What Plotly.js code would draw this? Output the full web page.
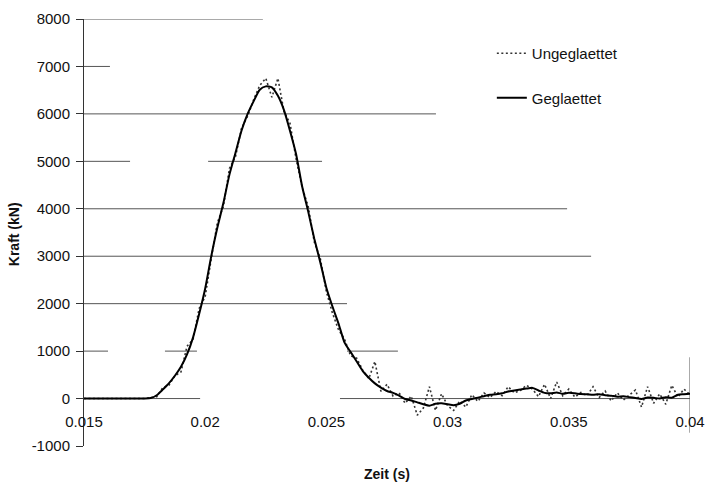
<!DOCTYPE html>
<html>
<head>
<meta charset="utf-8">
<script src="https://cdn.plot.ly/plotly-3.0.1.min.js"></script>
<style>html,body{margin:0;padding:0;background:#fff;}#chart{width:707px;height:482px;}</style>
</head>
<body>
<div id="chart"></div>
<script>
// Time (s), sampled every 0.25 ms from 15 ms to 40 ms
var timeMs = [];
for (var i = 0; i <= 100; i++) timeMs.push(15 + i * 0.25);
var zeit = timeMs.map(function (t) { return +(t / 1000).toFixed(5); });

// Ungeglaettet (raw) force values, kN
var ungeglaettet = [
  0, 0, 0, 0, 0, 0, 0, 0, 0, 0, 0,            // 15.00 - 17.50
  20, 40, 230, 280, 480, 560, 1100, 1250, 1900, 2150, // 17.75 - 20.00
  2950, 3700, 4050, 4850, 5100, 5700, 5950, 6300, 6600, 6750, // 20.25 - 22.50
  6350, 6750, 6050, 5800, 5050, 4450, 4050, 3300, 2950, 2250, // 22.75 - 25.00
  1800, 1450, 1250, 900, 850, 600, 420, 780, 150, 300,      // 25.25 - 27.50
  50, 120, -100, 50, -350, -200, 250, -250, 100, -150,      // 27.75 - 30.00
  -250, -50, -180, 80, -60, 120, 20, 150, 60, 250,          // 30.25 - 32.50
  120, 170, 280, 200, 40, 300, 0, 350, 60, 200,             // 32.75 - 35.00
  30, 130, 60, 250, 20, 160, -50, 120, -30, 80,             // 35.25 - 37.50
  180, -180, 250, -100, 100, -120, 280, 30, 200, 80         // 37.75 - 40.00
];

// Geglaettet (smoothed) force values, kN
var geglaettet = [
  0, 0, 0, 0, 0, 0, 0, 0, 0, 0, 0,            // 15.00 - 17.50
  10, 70, 190, 320, 480, 670, 930, 1290, 1780, 2320, // 17.75 - 20.00
  3000, 3600, 4120, 4720, 5180, 5650, 6000, 6270, 6510, 6580, // 20.25 - 22.50
  6560, 6380, 6080, 5640, 5150, 4470, 3940, 3370, 2870, 2330, // 22.75 - 25.00
  1940, 1580, 1180, 980, 780, 580, 440, 320, 230, 160,      // 25.25 - 27.50
  120, 60, -10, -40, -80, -120, -150, -110, -100, -120,     // 27.75 - 30.00
  -140, -110, -40, -10, 20, 50, 80, 90, 110, 150,           // 30.25 - 32.50
  170, 190, 210, 225, 170, 120, 110, 130, 100, 120,         // 32.75 - 35.00
  110, 95, 90, 80, 90, 70, 60, 40, 50, 30,                  // 35.25 - 37.50
  10, -10, 20, 15, 0, 30, 20, 80, 90, 100                   // 37.75 - 40.00
];

var xTickVals = [0.015, 0.02, 0.025, 0.03, 0.035, 0.04];
var xTickText = ["0.015", "0.02", "0.025", "0.03", "0.035", "0.04"];
var yTickVals = [-1000, 0, 1000, 2000, 3000, 4000, 5000, 6000, 7000, 8000];
var yTickText = ["-1000", "0", "1000", "2000", "3000", "4000", "5000", "6000", "7000", "8000"];

// Horizontal grid segments as they appear (partially printed) in the scan
var gridY  = [8000, 7000, 6000, 5000, 5000, 4000, 3000, 2000, 1000, 1000, 1000, 0, 0];
var gridX0 = [0.015, 0.015, 0.015, 0.015, 0.02012, 0.015, 0.015, 0.015, 0.015, 0.01834, 0.02585, 0.015, 0.02556];
var gridX1 = [0.02238, 0.01607, 0.02952, 0.0169, 0.02482, 0.03493, 0.03592, 0.02585, 0.01599, 0.01966, 0.02795, 0.01979, 0.04];
// vertical line at the right end
var vLineX = 0.04, vLineY0 = -720, vLineY1 = 870;

var shapes = [];
for (var k = 0; k < gridY.length; k++) {
  shapes.push({type: 'line', xref: 'x', yref: 'y', x0: gridX0[k], x1: gridX1[k], y0: gridY[k], y1: gridY[k],
    line: {color: '#555', width: 1}, layer: 'below'});
}
shapes.push({type: 'line', xref: 'x', yref: 'y', x0: vLineX, x1: vLineX, y0: vLineY0, y1: vLineY1,
  line: {color: '#555', width: 1}, layer: 'below'});

var font = 'Liberation Sans, Arial, sans-serif';

var traces = [
  {x: zeit, y: ungeglaettet, type: 'scatter', mode: 'lines', name: 'Ungeglaettet', legendgroup: 'a',
   line: {color: '#333', width: 1.6, dash: '2px,2.5px'}},
  {x: zeit, y: geglaettet, type: 'scatter', mode: 'lines', name: 'Geglaettet', legendgroup: 'b',
   line: {color: '#000', width: 2, shape: 'spline', smoothing: 0.6}}
];

var layout = {
  width: 707, height: 482,
  margin: {l: 84, r: 17, t: 19, b: 36},
  paper_bgcolor: '#fff', plot_bgcolor: '#fff',
  font: {family: font, size: 15, color: '#111'},
  showlegend: true,
  legend: {x: 0.673, y: 0.958, xanchor: 'left', yanchor: 'top', bgcolor: 'rgba(0,0,0,0)',
    font: {family: font, size: 15, color: '#111'}, tracegroupgap: 22},
  xaxis: {range: [0.015, 0.04], anchor: 'free', position: 1/9, showgrid: false, zeroline: false,
    showline: false, tickvals: xTickVals, ticktext: xTickText, ticks: '', ticklabelstandoff: 12,
    tickfont: {family: font, size: 15, color: '#111'}},
  yaxis: {range: [-1000, 8000], showgrid: false, zeroline: false, showline: true, linecolor: '#333', linewidth: 1,
    tickvals: yTickVals, ticktext: yTickText, ticks: 'outside', ticklen: 7, tickcolor: '#333', ticklabelstandoff: 3,
    tickfont: {family: font, size: 15, color: '#111'}},
  shapes: shapes,
  annotations: [
    {text: '<b>Zeit (s)</b>', xref: 'paper', yref: 'paper', x: 0.5, y: -0.066, xanchor: 'center', yanchor: 'middle',
     showarrow: false, font: {family: font, size: 14, color: '#111'}},
    {text: '<b>Kraft (kN)</b>', xref: 'paper', yref: 'paper', x: -0.1155, y: 0.496, xanchor: 'center', yanchor: 'middle',
     textangle: -90, showarrow: false, font: {family: font, size: 14, color: '#111'}}
  ]
};

Plotly.newPlot('chart', traces, layout, {displayModeBar: false, staticPlot: true});
</script>
</body>
</html>
